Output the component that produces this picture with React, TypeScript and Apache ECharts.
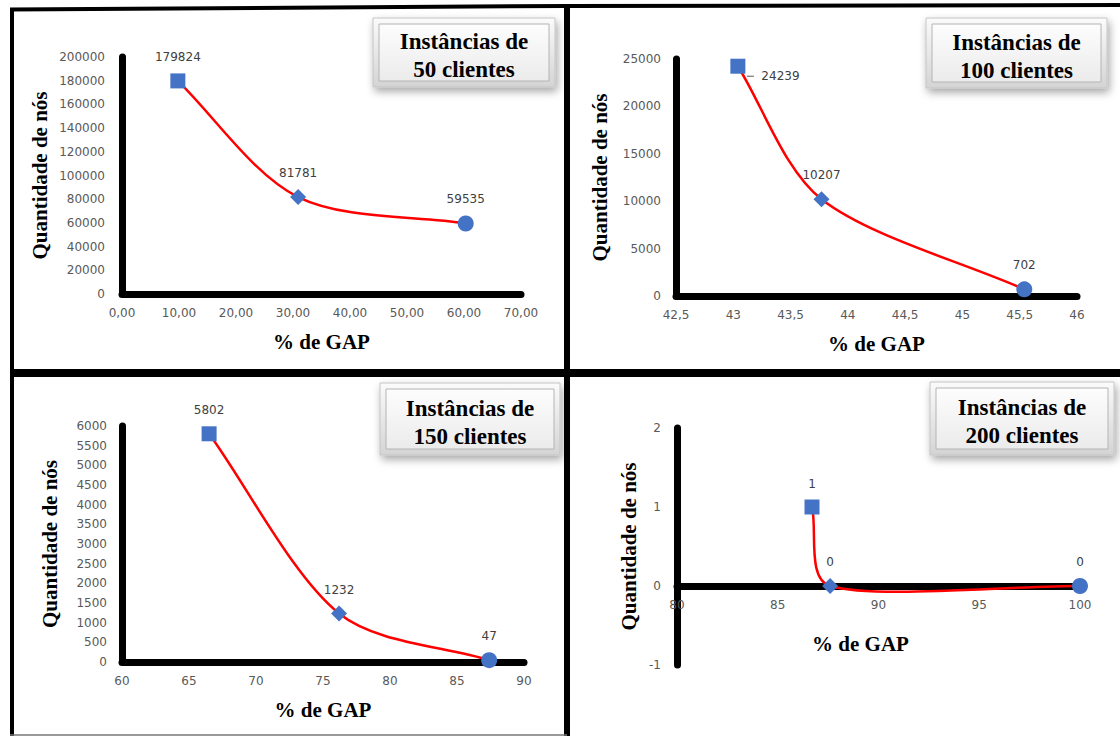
import React, { useEffect, useRef } from "react";
import * as echarts from "echarts";

// ---------- data ----------
const gap50 = [9.8, 30.9, 60.3];
const nodes50 = [179824, 81781, 59535];
const gap100 = [43.04, 43.77, 45.54];
const nodes100 = [24239, 10207, 702];
const gap150 = [66.5, 76.2, 87.4];
const nodes150 = [5802, 1232, 47];
const gap200 = [86.7, 87.6, 100];
const nodes200 = [1, 0, 0];

const pointSymbols = ["rect", "diamond", "circle"];
const titleLine1 = ["Instâncias de", "Instâncias de", "Instâncias de", "Instâncias de"];
const titleLine2 = ["50 clientes", "100 clientes", "150 clientes", "200 clientes"];
const xName = "% de GAP";
const yName = "Quantidade de nós";

const xMin = [0, 42.5, 60, 80];
const xMax = [70, 46, 90, 100];
const xStep = [10, 0.5, 5, 5];
const yMin = [0, 0, 0, -1];
const yMax = [200000, 25000, 6000, 2];
const yStep = [20000, 5000, 500, 1];

// ---------- layout ----------
const grids = [
  { left: 122, top: 57, width: 399, height: 237 },
  { left: 676, top: 59, width: 401, height: 237 },
  { left: 122, top: 426, width: 402, height: 236 },
  { left: 677, top: 428, width: 403, height: 237 },
];
const yNameGap = [72, 66, 62, 38];
const xNameGap = [37, 37, 37, 47];
const yLabelMargin = [17, 15, 15, 16];
const titleBoxes = [
  { x: 373, y: 18, w: 182, h: 69 },
  { x: 926, y: 18, w: 181, h: 70 },
  { x: 380, y: 383, w: 180, h: 72 },
  { x: 930, y: 382, w: 184, h: 73 },
];
const pointSizes = [15, 16, 16];

const xFormatters = [
  (v: number) => v.toFixed(2).replace(".", ","),
  (v: number) => String(v).replace(".", ","),
  (v: number) => String(v),
  (v: number) => String(v),
];

const TICK_FONT = "'DejaVu Sans', sans-serif";
const SERIF = "'Liberation Serif', 'Times New Roman', 'DejaVu Serif', serif";
const CURVE_COLOR = "#FF0000";

// Excel-like smoothed line (Catmull-Rom Bezier with capped handles)
function smoothSegments(pts: number[][]) {
  const n = pts.length;
  const tang = pts.map((p, k) => {
    if (k === 0) return [pts[1][0] - p[0], pts[1][1] - p[1]];
    if (k === n - 1) return [p[0] - pts[k - 1][0], p[1] - pts[k - 1][1]];
    return [(pts[k + 1][0] - pts[k - 1][0]) / 2, (pts[k + 1][1] - pts[k - 1][1]) / 2];
  });
  const segs: any[] = [];
  for (let k = 0; k < n - 1; k++) {
    const a = pts[k];
    const b = pts[k + 1];
    const len = Math.hypot(b[0] - a[0], b[1] - a[1]);
    const ta = tang[k];
    const tb = tang[k + 1];
    const la = Math.hypot(ta[0], ta[1]) || 1;
    const lb = Math.hypot(tb[0], tb[1]) || 1;
    const da = Math.min(la / 3, 0.3 * len);
    const db = Math.min(lb / 3, 0.3 * len);
    segs.push({
      x1: a[0],
      y1: a[1],
      cpx1: a[0] + (ta[0] / la) * da,
      cpy1: a[1] + (ta[1] / la) * da,
      cpx2: b[0] - (tb[0] / lb) * db,
      cpy2: b[1] - (tb[1] / lb) * db,
      x2: b[0],
      y2: b[1],
    });
  }
  return segs;
}

export default function App() {
  const ref = useRef<HTMLDivElement>(null);

  useEffect(() => {
    if (!ref.current) return;
    const chart = echarts.init(ref.current, null, { renderer: "svg" });
    const panels = [
      { gap: gap50, nodes: nodes50 },
      { gap: gap100, nodes: nodes100 },
      { gap: gap150, nodes: nodes150 },
      { gap: gap200, nodes: nodes200 },
    ];

    const curveSeries = panels.map((p, i) => ({
      type: "custom",
      xAxisIndex: i,
      yAxisIndex: i,
      clip: false,
      silent: true,
      z: 2,
      data: p.gap.map((x, j) => [x, p.nodes[j]]),
      encode: { x: 0, y: 1 },
      renderItem: (params: any, api: any) => {
        if (params.dataIndex !== 0) return null;
        const pts = p.gap.map((x, j) => api.coord([x, p.nodes[j]]));
        return {
          type: "group",
          children: smoothSegments(pts).map((s) => ({
            type: "bezierCurve",
            shape: s,
            style: { stroke: CURVE_COLOR, lineWidth: 2.5, fill: null },
          })),
        };
      },
    }));

    const pointSeries = panels.map((p, i) => ({
      type: "line",
      xAxisIndex: i,
      yAxisIndex: i,
      clip: false,
      z: 3,
      lineStyle: { width: 0, opacity: 0 },
      itemStyle: { color: "#4472C4" },
      label: {
        show: true,
        position: "top",
        distance: 10,
        color: "#404040",
        fontSize: 12,
        fontFamily: TICK_FONT,
      },
      data: p.gap.map((x, j) => {
        const item: any = {
          value: [x, p.nodes[j]],
          symbol: pointSymbols[j],
          symbolSize: pointSizes[j],
        };
        if (i === 1 && j === 0) {
          item.label = { position: "right", distance: 16, offset: [0, 10] };
        }
        return item;
      }),
    }));

    const option: any = {
      animation: false,
      backgroundColor: "#ffffff",
      grid: grids.map((g) => ({ ...g, containLabel: false })),
      xAxis: panels.map((_, i) => ({
        type: "value",
        gridIndex: i,
        min: xMin[i],
        max: xMax[i],
        interval: xStep[i],
        // sit on the y = 0 level of the panel's own value range
        offset: -grids[i].height * ((0 - yMin[i]) / (yMax[i] - yMin[i])),
        name: xName,
        nameLocation: "middle",
        nameGap: xNameGap[i],
        nameTextStyle: {
          fontFamily: SERIF,
          fontWeight: "bold",
          fontSize: 21,
          color: "#000",
          padding: i === 3 ? [0, 36, 0, 0] : 0,
        },
        axisLine: { show: true, onZero: false, lineStyle: { color: "#000", width: 7 } },
        axisTick: { show: false },
        splitLine: { show: false },
        axisLabel: {
          formatter: xFormatters[i],
          color: "#595959",
          fontSize: 12,
          fontFamily: TICK_FONT,
          margin: 13,
          showMinLabel: true,
          showMaxLabel: true,
        },
      })),
      yAxis: panels.map((_, i) => ({
        type: "value",
        gridIndex: i,
        min: yMin[i],
        max: yMax[i],
        interval: yStep[i],
        name: yName,
        nameLocation: "middle",
        nameGap: yNameGap[i],
        nameTextStyle: {
          fontFamily: SERIF,
          fontWeight: "bold",
          fontSize: 21,
          color: "#000",
        },
        axisLine: { show: true, onZero: false, lineStyle: { color: "#000", width: 7 } },
        axisTick: { show: false },
        splitLine: { show: false },
        axisLabel: {
          formatter: (v: number) => String(v),
          color: "#595959",
          fontSize: 12,
          fontFamily: TICK_FONT,
          margin: yLabelMargin[i],
          showMinLabel: true,
          showMaxLabel: true,
        },
      })),
      series: [...curveSeries, ...pointSeries],
    };

    chart.setOption(option);

    // leader line for the 24239 label, located through the chart's own scale
    const lp = chart.convertToPixel({ gridIndex: 1 } as any, [gap100[0], nodes100[0]]) as number[];

    const graphics: any[] = [];
    graphics.push(
      { type: "line", shape: { x1: 10, y1: 9.5, x2: 566, y2: 6 }, style: { stroke: "#000", lineWidth: 4 } },
      { type: "line", shape: { x1: 566, y1: 6, x2: 1120, y2: 5 }, style: { stroke: "#000", lineWidth: 4 } },
      { type: "line", shape: { x1: 12, y1: 8, x2: 12, y2: 736 }, style: { stroke: "#000", lineWidth: 4 } },
      { type: "line", shape: { x1: 567, y1: 4, x2: 567, y2: 736 }, style: { stroke: "#000", lineWidth: 6 } },
      { type: "line", shape: { x1: 10, y1: 373, x2: 1120, y2: 373 }, style: { stroke: "#000", lineWidth: 8 } },
      { type: "line", shape: { x1: 10, y1: 735, x2: 567, y2: 735 }, style: { stroke: "#777", lineWidth: 1.5 } }
    );
    titleBoxes.forEach((b, i) => {
      graphics.push({
        type: "group",
        children: [
          {
            type: "rect",
            shape: { x: b.x, y: b.y, width: b.w, height: b.h },
            style: {
              fill: {
                type: "linear", x: 0, y: 0, x2: 0, y2: 1,
                colorStops: [
                  { offset: 0, color: "#fbfbfb" },
                  { offset: 1, color: "#d4d4d4" },
                ],
              },
              stroke: "#c4c4c4",
              lineWidth: 1,
              shadowBlur: 8,
              shadowColor: "rgba(0,0,0,0.35)",
              shadowOffsetX: 2,
              shadowOffsetY: 4,
            },
          },
          {
            type: "rect",
            shape: { x: b.x + 6, y: b.y + 6, width: b.w - 12, height: b.h - 12 },
            style: {
              fill: {
                type: "linear", x: 0, y: 0, x2: 0, y2: 1,
                colorStops: [
                  { offset: 0, color: "#fdfdfd" },
                  { offset: 1, color: "#ebebeb" },
                ],
              },
              stroke: "#b4b4b4",
              lineWidth: 1,
            },
          },
          {
            type: "text",
            style: {
              text: titleLine1[i],
              x: b.x + b.w / 2,
              y: b.y + b.h / 2 - 11,
              textAlign: "center",
              textVerticalAlign: "middle",
              fontFamily: SERIF,
              fontWeight: "bold",
              fontSize: 23,
              fill: "#000",
            },
          },
          {
            type: "text",
            style: {
              text: titleLine2[i],
              x: b.x + b.w / 2,
              y: b.y + b.h / 2 + 17,
              textAlign: "center",
              textVerticalAlign: "middle",
              fontFamily: SERIF,
              fontWeight: "bold",
              fontSize: 23,
              fill: "#000",
            },
          },
        ],
      });
    });
    graphics.push({
      type: "line",
      z: 10,
      shape: { x1: lp[0] + 9, y1: lp[1] + 10, x2: lp[0] + 16, y2: lp[1] + 10 },
      style: { stroke: "#595959", lineWidth: 1 },
    });

    chart.setOption({ graphic: graphics });

    return () => chart.dispose();
  }, []);

  return (
    <div
      ref={ref}
      style={{ position: "absolute", left: 0, top: 0, width: 1120, height: 736, background: "#fff" }}
    />
  );
}
